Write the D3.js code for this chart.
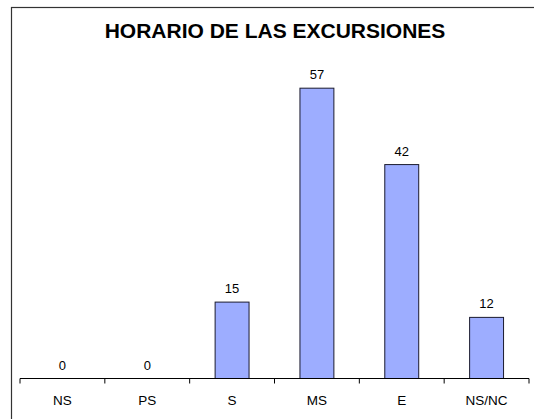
<!DOCTYPE html>
<html lang="es">
<head>
<meta charset="UTF-8">
<script src="https://d3js.org/d3.v7.min.js"></script>
<style>
  body { margin: 0; background: white; }
  text { font-family: "Liberation Sans", Arial, sans-serif; }
</style>
</head>
<body>
<div id="chart"></div>
<script>
const categories = ["NS", "PS", "S", "MS", "E", "NS/NC"];
const values = [0, 0, 15, 57, 42, 12];
const title = "HORARIO DE LAS EXCURSIONES";

const W = 534, H = 419;
const svg = d3.select("#chart").append("svg")
  .attr("width", W).attr("height", H);

// chart frame (only left and top edges are visible)
svg.append("rect")
  .attr("x", 11.5).attr("y", 7.5)
  .attr("width", 540).attr("height", 430)
  .attr("fill", "white").attr("stroke", "#333").attr("stroke-width", 1.2);

svg.append("text")
  .attr("x", 275).attr("y", 38)
  .attr("text-anchor", "middle")
  .style("font-size", "21px").style("font-weight", "bold")
  .text(title);

var x = d3.scaleBand().domain(categories).range([20, 529]).padding(0);
var y = d3.scaleLinear().domain([0, 60]).range([378.5, 72.9]);

var barW = x.bandwidth() * 0.4;

// bars
svg.append("g").selectAll("rect")
  .data(categories)
  .enter().append("rect")
  .attr("x", function(d) { return x(d) + x.bandwidth() / 2 - barW / 2; })
  .attr("y", function(d, i) { return y(values[i]); })
  .attr("width", barW)
  .attr("height", function(d, i) { return y(0) - y(values[i]); })
  .attr("fill", "#9dadff")
  .attr("stroke", "#1a1a2e").attr("stroke-width", 1);

// value labels
svg.append("g").selectAll("text")
  .data(categories)
  .enter().append("text")
  .attr("x", function(d) { return x(d) + x.bandwidth() / 2; })
  .attr("y", function(d, i) { return y(values[i]) - 9; })
  .attr("text-anchor", "middle")
  .style("font-size", "13px")
  .text(function(d, i) { return values[i]; });

// x axis: labels from the axis, ticks on band boundaries
var axis = svg.append("g").attr("transform", "translate(0," + y(0) + ")")
  .call(d3.axisBottom(x).tickSize(0));
axis.select(".domain").remove();
axis.selectAll("text")
  .attr("y", 26.5).attr("dy", 0)
  .style("font-size", "13.5px")
  .style("font-family", "'Liberation Sans', Arial, sans-serif")
  .attr("fill", "black");

svg.append("line")
  .attr("x1", x.range()[0]).attr("x2", x.range()[1])
  .attr("y1", y(0)).attr("y2", y(0))
  .attr("stroke", "black").attr("stroke-width", 1.2);

svg.append("g").selectAll("line")
  .data(d3.range(categories.length + 1))
  .enter().append("line")
  .attr("x1", function(i) { return x.range()[0] + i * x.step(); })
  .attr("x2", function(i) { return x.range()[0] + i * x.step(); })
  .attr("y1", y(0)).attr("y2", y(0) + 5)
  .attr("stroke", "black").attr("stroke-width", 1);
</script>
</body>
</html>
